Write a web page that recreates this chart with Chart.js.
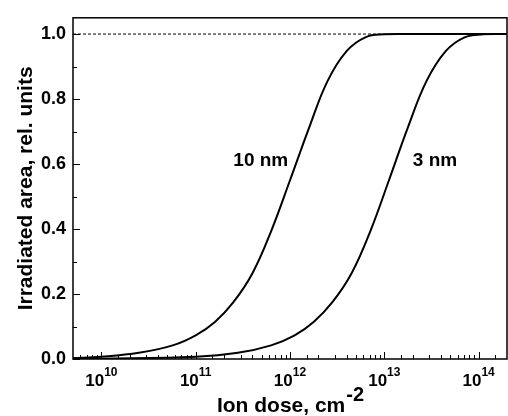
<!DOCTYPE html>
<html>
<head>
<meta charset="utf-8">
<script src="https://cdn.jsdelivr.net/npm/chart.js@4.4.1/dist/chart.umd.min.js"></script>
<style>
  html, body { margin: 0; padding: 0; background: #fff; }
  #wrap { width: 508px; height: 416px; }
</style>
</head>
<body>
<div id="wrap"><canvas id="myChart" width="508" height="416"></canvas></div>
<script>
// ion dose (cm^-2) and irradiated area (rel. units)
const dose10 = [5e9, 1e10, 2.5e10, 5.7e10, 1e11, 1.6e11, 2.5e11, 4e11, 6.3e11, 1e12, 1.6e12, 2.5e12, 4e12, 6.3e12, 1e13, 2e13, 2e14];
const area10 = [0.003, 0.007, 0.019, 0.042, 0.073, 0.114, 0.174, 0.264, 0.393, 0.550, 0.713, 0.855, 0.948, 0.990, 0.999, 1.0, 1.0];

const dose3 = [5e9, 1e10, 1e11, 2.8e11, 6.3e11, 1.12e12, 1.78e12, 2.8e12, 4.5e12, 7.1e12, 1.12e13, 1.78e13, 2.8e13, 4.5e13, 7.1e13, 1.12e14, 2e14];
const area3 = [0.0005, 0.001, 0.007, 0.019, 0.042, 0.073, 0.114, 0.174, 0.264, 0.393, 0.550, 0.713, 0.855, 0.948, 0.990, 0.999, 1.0];

const refDose = [5e9, 2e14];
const refArea = [1.0, 1.0];

const yTicks = [0, 0.1, 0.2, 0.3, 0.4, 0.5, 0.6, 0.7, 0.8, 0.9, 1.0];
const xMajor = [1e10, 1e11, 1e12, 1e13, 1e14];

const curveLabels = [
  { text: '10 nm', x: 4.9e11, y: 0.61 },
  { text: '3 nm', x: 3.45e13, y: 0.61 }
];

const FONT = '"Liberation Sans", Arial, sans-serif';

function pts(xs, ys) {
  return xs.map((x, i) => ({ x: x, y: ys[i] }));
}

const extras = {
  id: 'extras',
  afterDraw(chart) {
    const c = chart.ctx;
    const a = chart.chartArea;
    const xs = chart.scales.x;
    const ys = chart.scales.y;
    c.save();
    c.strokeStyle = '#000';
    c.fillStyle = '#000';

    // frame
    c.lineWidth = 1.5;
    c.strokeRect(a.left, a.top, a.right - a.left, a.bottom - a.top);

    // y ticks, pointing in
    c.lineWidth = 1;
    yTicks.forEach(v => {
      const py = Math.round(ys.getPixelForValue(v)) + 0.5;
      const major = Math.round(v * 10) % 2 === 0;
      c.beginPath();
      c.moveTo(a.left, py);
      c.lineTo(a.left + (major ? 7 : 4), py);
      c.stroke();
    });

    // x ticks (log minors), pointing in
    xs.ticks.forEach(t => {
      const v = t.value;
      const px = Math.round(xs.getPixelForValue(v)) + 0.5;
      if (px <= a.left + 1 || px >= a.right - 1) return;
      const lg = Math.log10(v);
      const major = Math.abs(lg - Math.round(lg)) < 1e-6;
      c.beginPath();
      c.moveTo(px, a.bottom);
      c.lineTo(px, a.bottom - (major ? 7 : 4));
      c.stroke();
    });

    // x tick labels 10^n
    xMajor.forEach(v => {
      const px = xs.getPixelForValue(v);
      const exp = String(Math.round(Math.log10(v)));
      c.font = 'bold 17px ' + FONT;
      const wb = c.measureText('10').width;
      c.font = 'bold 12px ' + FONT;
      const we = c.measureText(exp).width;
      const x0 = px - (wb + we) / 2;
      c.textBaseline = 'alphabetic';
      c.textAlign = 'left';
      c.font = 'bold 17px ' + FONT;
      c.fillText('10', x0, 386);
      c.font = 'bold 12px ' + FONT;
      c.fillText(exp, x0 + wb, 376);
    });

    // x title with superscript
    c.font = 'bold 21px ' + FONT;
    const t1 = 'Ion dose, cm';
    const w1 = c.measureText(t1).width;
    c.font = 'bold 20px ' + FONT;
    const w2 = c.measureText('-2').width;
    const cx = (a.left + a.right) / 2;
    const tx = cx - (w1 + w2) / 2;
    c.font = 'bold 21px ' + FONT;
    c.fillText(t1, tx, 412);
    c.font = 'bold 20px ' + FONT;
    c.fillText('-2', tx + w1 + 1, 401);

    // y title
    c.save();
    c.translate(32, (a.top + a.bottom) / 2);
    c.rotate(-Math.PI / 2);
    c.textAlign = 'center';
    c.font = 'bold 21px ' + FONT;
    c.fillText('Irradiated area, rel. units', 0, 0);
    c.restore();

    // curve labels
    c.font = 'bold 19px ' + FONT;
    c.textAlign = 'center';
    c.textBaseline = 'middle';
    curveLabels.forEach(l => {
      c.fillText(l.text, xs.getPixelForValue(l.x), ys.getPixelForValue(l.y));
    });

    c.restore();
  }
};

const ctx = document.getElementById('myChart').getContext('2d');
const myChart = new Chart(ctx, {
  type: 'line',
  data: {
    datasets: [
      {
        label: '10 nm',
        data: pts(dose10, area10),
        borderColor: '#000',
        borderWidth: 2,
        pointRadius: 0,
        tension: 0.4,
        fill: false
      },
      {
        label: '3 nm',
        data: pts(dose3, area3),
        borderColor: '#000',
        borderWidth: 2,
        pointRadius: 0,
        tension: 0.4,
        fill: false
      },
      {
        label: 'saturation',
        data: pts(refDose, refArea),
        borderColor: '#000',
        borderWidth: 1,
        borderDash: [3, 2],
        pointRadius: 0,
        fill: false
      }
    ]
  },
  options: {
    responsive: false,
    animation: false,
    layout: { padding: { top: 8, right: 1, left: 0, bottom: 0 } },
    plugins: {
      legend: { display: false },
      tooltip: { enabled: false }
    },
    scales: {
      x: {
        type: 'logarithmic',
        min: 5e9,
        max: 2e14,
        grid: { display: false, drawTicks: false },
        border: { display: false },
        ticks: { display: false },
        afterFit: (s) => { s.height = 57; }
      },
      y: {
        type: 'linear',
        min: 0,
        max: 1.05,
        afterBuildTicks: (s) => { s.ticks = yTicks.map(v => ({ value: v })); },
        grid: { display: false, drawTicks: false },
        border: { display: false },
        ticks: {
          padding: 7,
          color: '#000',
          font: { family: FONT, size: 18, weight: 'bold' },
          callback: (v) => (Math.round(v * 10) % 2 === 0 ? Number(v).toFixed(1) : '')
        },
        afterFit: (s) => { s.width = 73; }
      }
    }
  },
  plugins: [extras]
});
</script>
</body>
</html>
